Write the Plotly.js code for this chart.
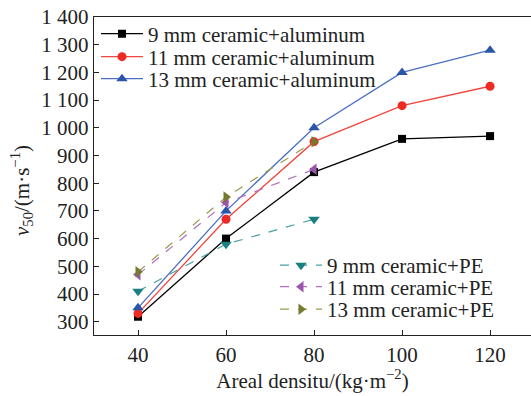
<!DOCTYPE html>
<html>
<head>
<meta charset="utf-8">
<script src="https://cdn.plot.ly/plotly-3.0.1.min.js"></script>
<style>html,body{margin:0;padding:0;overflow:hidden;background:#fff;}</style>
</head>
<body>
<div id="chart" style="width:531px;height:396px;"></div>
<script>
const density = [40, 60, 80, 100, 120];
const densityPE = [40, 60, 80];
const al9 = [318, 600, 840, 960, 970];
const al11 = [330, 670, 950, 1080, 1150];
const al13 = [350, 700, 1000, 1200, 1280];
const pe9 = [410, 580, 670];
const pe11 = [470, 730, 850];
const pe13 = [480, 750, 950];
const yTickVals = [300, 400, 500, 600, 700, 800, 900, 1000, 1100, 1200, 1300, 1400];
const yTickText = ['300','400','500','600','700','800','900','1 000','1 100','1 200','1 300','1 400'];
const xTickVals = [40, 60, 80, 100, 120];

const FONT = 'Liberation Serif, Times New Roman, serif';
const FS = 21;
const TOP = 17, PH = 318, LEFT = 94, PW = 437;
function py(p) { return 1 - (p - TOP) / PH; }
function px(p) { return (p - LEFT) / PW; }

const traces = [
  {x: density, y: al9, name: '9 mm ceramic+aluminum', mode: 'lines+markers',
   line: {color: '#000000', width: 1.3}, marker: {symbol: 'square', size: 8, color: '#000000'}, legend: 'legend'},
  {x: density, y: al11, name: '11 mm ceramic+aluminum', mode: 'lines+markers',
   line: {color: '#f2453d', width: 1.3}, marker: {symbol: 'circle', size: 9, color: '#ee2a24'}, legend: 'legend2'},
  {x: density, y: al13, name: '13 mm ceramic+aluminum', mode: 'lines+markers',
   line: {color: '#4a6fc4', width: 1.3}, marker: {symbol: 'triangle-up', size: 10, color: '#2a55a8'}, legend: 'legend3'},
  {x: densityPE, y: pe9, name: '9 mm ceramic+PE', mode: 'lines+markers',
   line: {color: '#4aa0a0', width: 1.2, dash: 'dash'}, marker: {symbol: 'triangle-down', size: 10, color: '#1a7f80'}, legend: 'legend4'},
  {x: densityPE, y: pe11, name: '11 mm ceramic+PE', mode: 'lines+markers',
   line: {color: '#b070c0', width: 1.2, dash: 'dash'}, marker: {symbol: 'triangle-left', size: 10, color: '#9b55ad'}, legend: 'legend5'},
  {x: densityPE, y: pe13, name: '13 mm ceramic+PE', mode: 'lines+markers',
   line: {color: '#9a9a50', width: 1.2, dash: 'dash'}, marker: {symbol: 'triangle-right', size: 10, color: '#767a2e'}, legend: 'legend6'}
];

function leg(x, pyc) {
  return {x: x, y: py(pyc), xanchor: 'left', yanchor: 'middle', bgcolor: 'rgba(0,0,0,0)',
          font: {family: FONT, size: FS, color: '#222'}, itemwidth: 42};
}

const layout = {
  width: 531, height: 396,
  margin: {l: 94, r: 0, t: 17, b: 61},
  paper_bgcolor: '#ffffff', plot_bgcolor: '#ffffff',
  font: {family: FONT, size: FS, color: '#222222'},
  showlegend: true,
  xaxis: {
    range: [30, 129.3], tickvals: xTickVals, ticks: 'inside', ticklen: 5, tickcolor: '#222',
    showline: true, linecolor: '#222', linewidth: 1.3, mirror: true, showgrid: false, zeroline: false,
    tickfont: {family: FONT, size: FS, color: '#222'},
    title: {text: 'Areal densitu/(kg·m<sup>−2</sup>)', font: {family: FONT, size: FS, color: '#222'}, standoff: 6}
  },
  yaxis: {
    range: [252, 1400], tickvals: yTickVals, ticktext: yTickText, ticks: 'inside', ticklen: 5, tickcolor: '#222',
    showline: true, linecolor: '#222', linewidth: 1.3, showgrid: false, zeroline: false,
    tickfont: {family: FONT, size: FS, color: '#222'}
  },
  annotations: [{
    text: '<i>v</i><sub>50</sub>/(m·s<sup>−1</sup>)', xref: 'paper', yref: 'paper',
    x: px(21), y: py(191), xanchor: 'center', yanchor: 'middle', textangle: -90, showarrow: false,
    font: {family: FONT, size: FS, color: '#222'}
  }],
  legend: leg(px(96), 34),
  legend2: leg(px(96), 57),
  legend3: leg(px(96), 79),
  legend4: leg(px(275), 265.5),
  legend5: leg(px(275), 287),
  legend6: leg(px(275), 309.5)
};

Plotly.newPlot('chart', traces, layout, {staticPlot: true, displayModeBar: false});
</script>
</body>
</html>
